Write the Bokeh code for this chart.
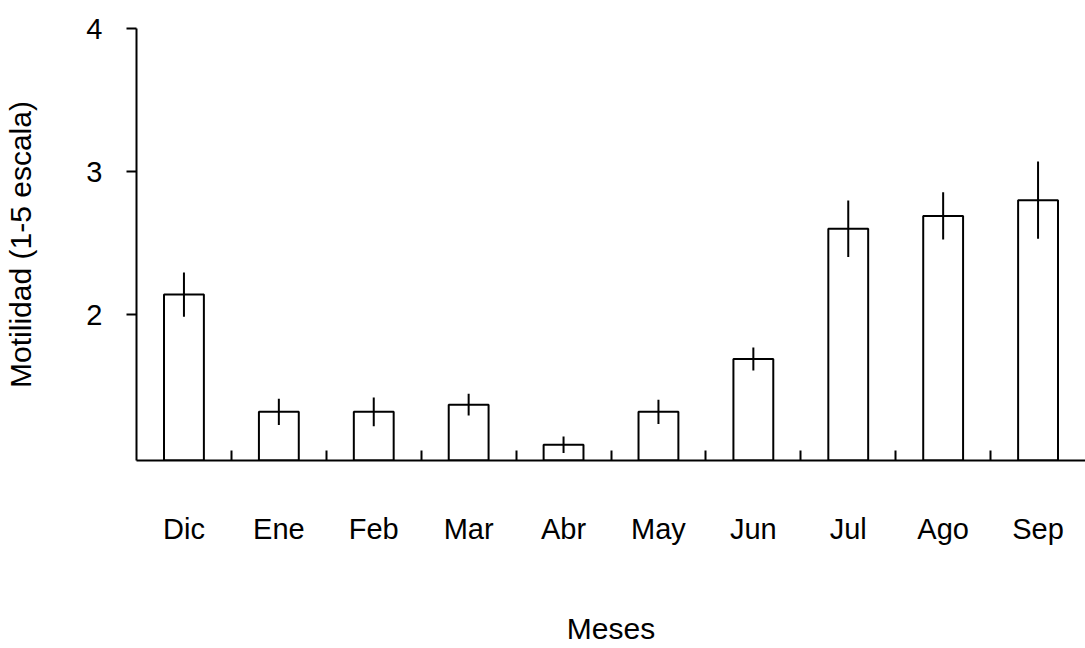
from bokeh.plotting import figure
from bokeh.models import ColumnDataSource, FixedTicker, Range1d
from bokeh.embed import file_html
from bokeh.resources import INLINE

months = ["Dic", "Ene", "Feb", "Mar", "Abr", "May", "Jun", "Jul", "Ago", "Sep"]
means = [2.14, 1.32, 1.32, 1.37, 1.09, 1.32, 1.69, 2.60, 2.69, 2.80]
errors = [0.155, 0.092, 0.10, 0.076, 0.057, 0.085, 0.08, 0.198, 0.165, 0.27]
y_ticks = [2, 3, 4]
baseline = 0.98

x = [i + 0.5 for i in range(len(months))]
src = ColumnDataSource(dict(
    x=x, top=means,
    lo=[m - e for m, e in zip(means, errors)],
    hi=[m + e for m, e in zip(means, errors)],
))

p = figure(width=1085, height=648, output_backend="svg", toolbar_location=None,
           x_range=Range1d(0, len(months)), y_range=Range1d(baseline, 4),
           min_border_left=136, min_border_right=0, min_border_top=28,
           min_border_bottom=188)
p.outline_line_color = None
p.xgrid.visible = False
p.ygrid.visible = False

p.vbar(x="x", top="top", bottom=baseline, width=0.42, source=src,
       fill_color="white", line_color="black", line_width=2)
p.segment(x0="x", y0="lo", x1="x", y1="hi", source=src,
          line_color="black", line_width=2)

font = "Liberation Sans"
xa = p.xaxis[0]
xa.ticker = FixedTicker(ticks=x, minor_ticks=list(range(1, len(months))))
xa.major_label_overrides = {xi: m for xi, m in zip(x, months)}
xa.major_tick_line_color = None
xa.major_tick_in = 0
xa.major_tick_out = 0
xa.minor_tick_in = 10
xa.minor_tick_out = 0
xa.minor_tick_line_width = 2
xa.minor_tick_line_color = "black"
xa.axis_line_width = 2
xa.major_label_standoff = 52
xa.major_label_text_font = font
xa.major_label_text_font_size = "29px"
xa.major_label_text_color = "black"
xa.axis_label = "Meses"
xa.axis_label_text_font = font
xa.axis_label_text_font_size = "30px"
xa.axis_label_text_font_style = "normal"
xa.axis_label_text_color = "black"
xa.axis_label_standoff = 64

ya = p.yaxis[0]
ya.ticker = FixedTicker(ticks=y_ticks, minor_ticks=[])
ya.major_tick_in = 0
ya.major_tick_out = 10
ya.major_tick_line_width = 2
ya.axis_line_width = 2
ya.major_label_standoff = 24
ya.major_label_text_font = font
ya.major_label_text_font_size = "29px"
ya.major_label_text_color = "black"
ya.axis_label = "Motilidad (1-5 escala)"
ya.axis_label_text_font = font
ya.axis_label_text_font_size = "30px"
ya.axis_label_text_font_style = "normal"
ya.axis_label_text_color = "black"
ya.axis_label_standoff = 46

open("out.html", "w").write(file_html(p, INLINE))
